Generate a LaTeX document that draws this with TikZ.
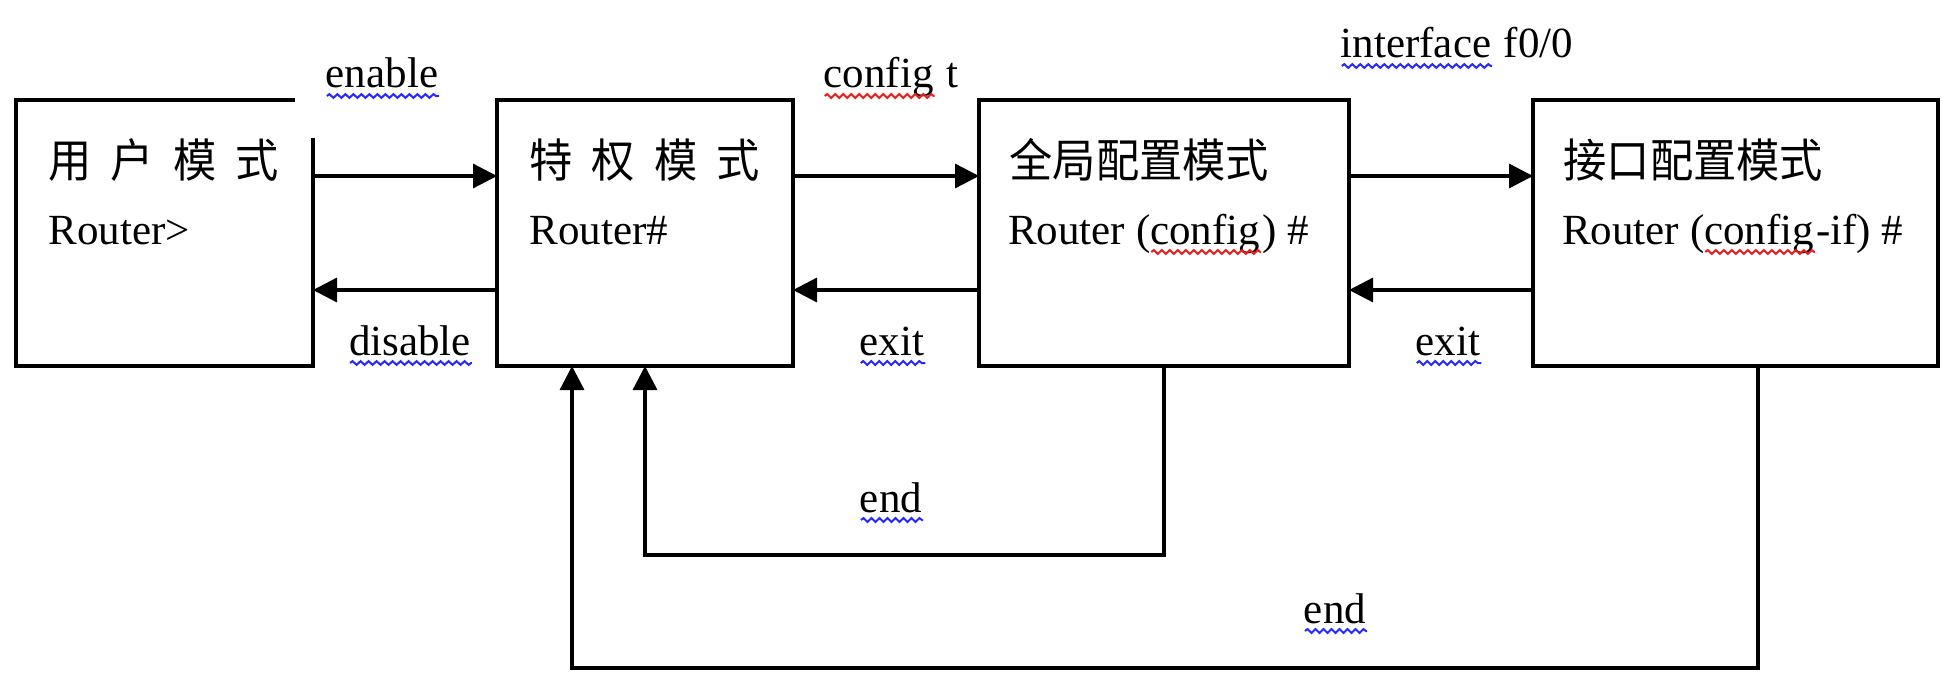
\documentclass[tikz,border=0pt]{standalone}
\usepackage{fontspec}
\setmainfont{Liberation Serif}
\newfontfamily\cjk{Noto Sans CJK SC}[FakeStretch=0.94]
\usetikzlibrary{arrows.meta,decorations.pathmorphing}
\definecolor{wblue}{RGB}{40,40,250}
\definecolor{wred}{RGB}{230,30,30}
\newsavebox\wvbox
\newlength\wvw
\newcommand\wv[2]{\sbox\wvbox{#2}\setlength\wvw{\wd\wvbox}\rlap{\usebox\wvbox}\tikz[baseline=0pt]{\path (0pt,0pt) (\wvw,0pt);\draw[#1,line width=2pt,decorate,decoration={snake,amplitude=1.9pt,segment length=8pt}] (0pt,-8pt) -- (\wvw,-8pt);}}
\begin{document}
\begin{tikzpicture}[x=1pt,y=-1pt,line width=3.3pt,
  box/.style={minimum height=266pt,inner sep=0pt,outer sep=0pt,draw},
  arr/.style={-{Triangle[length=24pt,width=24pt]}},
  lbl/.style={inner sep=0pt,anchor=base,font=\fontsize{43}{50}\selectfont},
  cn/.style={inner sep=0pt,anchor=west,font=\cjk\fontsize{46}{52}\selectfont},
  rt/.style={inner sep=0pt,anchor=base west,font=\fontsize{43}{50}\selectfont}]
\useasboundingbox (0,0) rectangle (1956,677);
% boxes
\node[box,draw=none,minimum width=297pt] (b1) at (164.5,233) {};
\node[box,minimum width=296pt] (b2) at (645,233) {};
\node[box,minimum width=370pt] (b3) at (1164,233) {};
\node[box,minimum width=405pt] (b4) at (1735.5,233) {};
\draw ([yshift=-38pt]b1.north east) -- (b1.south east) -- (b1.south west) -- (b1.north west) -- ([xshift=-18pt]b1.north east);
% box texts
\node[cn] (t1) at (47,160) {用\hspace{19pt}户\hspace{19pt}模\hspace{19pt}式};
\node[rt] (r1) at (47,244) {Router>};
\node[cn] (t2) at (528,160) {特\hspace{19pt}权\hspace{19pt}模\hspace{19pt}式};
\node[rt] (r2) at (528,244) {Router\#};
\node[cn] (t3) at (1008,160) {全局配置模式};
\node[rt] (r3) at (1008,244) {Router (\wv{wred}{config}) \#};
\node[cn] (t4) at (1562,160) {接口配置模式};
\node[rt] (r4) at (1562,244) {Router (\wv{wred}{config}-if) \#};
% horizontal arrows
\draw[arr] ([yshift=57pt]b1.east) -- ([yshift=57pt]b2.west);
\draw[arr] ([yshift=-57pt]b2.west) -- ([yshift=-57pt]b1.east);
\draw[arr] ([yshift=57pt]b2.east) -- ([yshift=57pt]b3.west);
\draw[arr] ([yshift=-57pt]b3.west) -- ([yshift=-57pt]b2.east);
\draw[arr] ([yshift=57pt]b3.east) -- ([yshift=57pt]b4.west);
\draw[arr] ([yshift=-57pt]b4.west) -- ([yshift=-57pt]b3.east);
% end loops
\draw[arr] (b3.south) -- ++(0,189) -| (b2.south);
\draw[arr] ([xshift=22.5pt]b4.south) -- ++(0,302) -| ([xshift=-73pt]b2.south);
% labels
\node[lbl] (len) at (383,88) {\wv{wblue}{enable}};
\node[lbl] (ldis) at (411,355) {\wv{wblue}{disable}};
\node[lbl] (lcfg) at (891,88) {\wv{wred}{config} t};
\node[lbl] (lex1) at (893,355) {\wv{wblue}{exit}};
\node[lbl] (lif) at (1457,58) {\wv{wblue}{interface} f0/0};
\node[lbl] (lex2) at (1449,355) {\wv{wblue}{exit}};
\node[lbl] (lend1) at (892,512) {\wv{wblue}{end}};
\node[lbl] (lend2) at (1336,623) {\wv{wblue}{end}};
\end{tikzpicture}
\end{document}
